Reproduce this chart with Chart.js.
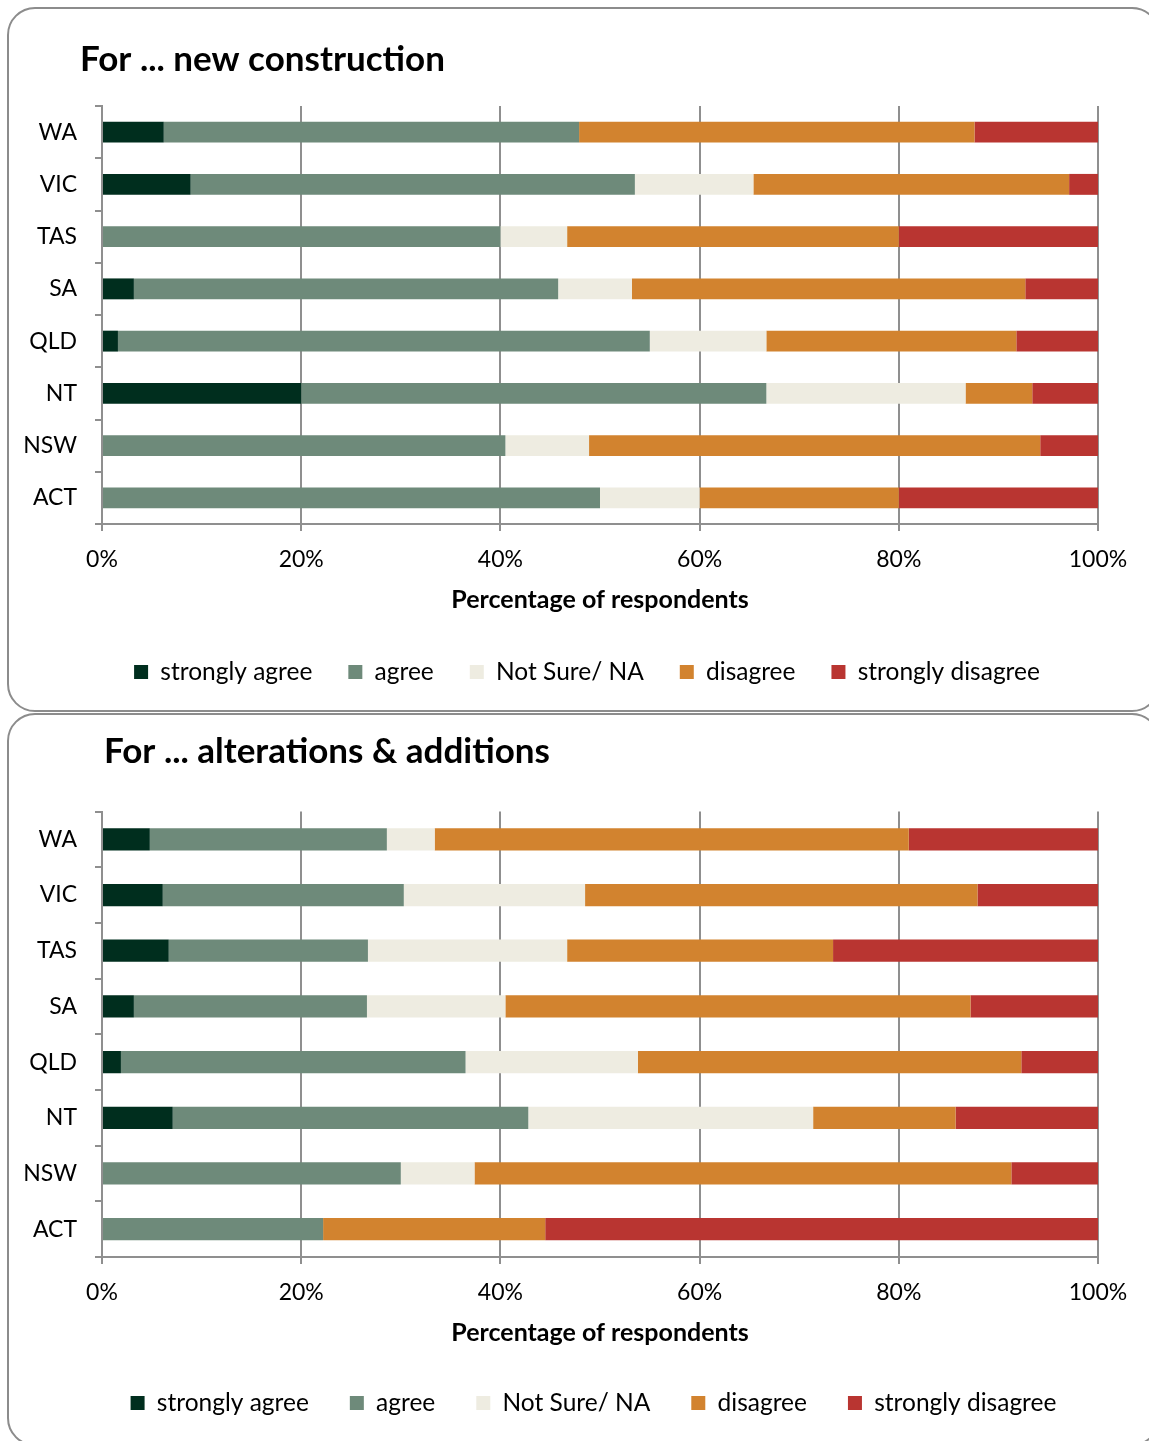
<!DOCTYPE html>
<html><head><meta charset="utf-8">
<script src="https://cdn.jsdelivr.net/npm/chart.js@4"></script>
<style>
html,body{margin:0;padding:0;background:#fff;overflow:hidden;width:1149px;height:1441px;position:relative}
.panel{position:absolute;border:2px solid #8c8c8c;border-radius:28px;box-sizing:border-box}
.wrap{position:absolute;left:0;width:1149px}
</style></head><body>
<div class="panel" style="left:7px;top:7px;width:1153px;height:705px"></div>
<div class="panel" style="left:7px;top:713px;width:1153px;height:733px"></div>
<div class="wrap" style="top:0;height:712px"><canvas id="c1"></canvas></div>
<div class="wrap" style="top:712px;height:729px"><canvas id="c2"></canvas></div>
<script>
const categories = ['WA','VIC','TAS','SA','QLD','NT','NSW','ACT'];
const seriesNames = ['strongly agree','agree','Not Sure/ NA','disagree','strongly disagree'];
const seriesColors = ['#002e1e','#6e8a7a','#eeece1','#d2832f','#b93531'];
const xTicks = [0,20,40,60,80,100];

// For ... new construction
const newStronglyAgree    = [6.2, 8.9, 0,    3.2, 1.6, 20.0, 0,    0];
const newAgree            = [41.7,44.6,40.0, 42.6,53.4,46.7, 40.5, 50.0];
const newNotSure          = [0,   11.9,6.7,  7.4, 11.7,20.0, 8.4,  10.0];
const newDisagree         = [39.7,31.7,33.3, 39.5,25.1,6.7,  45.3, 20.0];
const newStronglyDisagree = [12.4,2.9, 20.0, 7.3, 8.2, 6.6,  5.8,  20.0];

// For ... alterations & additions
const altStronglyAgree    = [4.8, 6.1, 6.7,  3.2, 1.9, 7.1,  0,    0];
const altAgree            = [23.8,24.2,20.0, 23.4,34.6,35.7, 30.0, 22.2];
const altNotSure          = [4.8, 18.2,20.0, 13.9,17.3,28.6, 7.4,  0];
const altDisagree         = [47.6,39.4,26.7, 46.7,38.5,14.3, 53.9, 22.3];
const altStronglyDisagree = [19.0,12.1,26.6, 12.8,7.7, 14.3, 8.7,  55.5];

Chart.defaults.font.family = 'Lato, "Open Sans", sans-serif';
Chart.defaults.color = '#000';

function makeChart(id, title, series, L) {
  const gridColor = '#8f8f8f';
  const placer = {
    id: 'placer',
    afterLayout(chart) {
      if (chart.titleBlock) chart.titleBlock.left = L.titleX;
      const lg = chart.legend;
      if (lg) {
        const d = L.legendCenter - (lg.left + lg.right) / 2;
        lg.left += d; lg.right += d;
      }
    }
  };
  return new Chart(document.getElementById(id), {
    type: 'bar',
    plugins: [placer],
    data: {
      labels: categories,
      datasets: series.map((d, i) => ({
        label: seriesNames[i], data: d, backgroundColor: seriesColors[i],
        borderWidth: 0, categoryPercentage: 1, barPercentage: 0.4
      }))
    },
    options: {
      indexAxis: 'y', responsive: true, maintainAspectRatio: false, animation: false,
      layout: { padding: { left: 0, right: 51, top: 0, bottom: L.padBottom } },
      plugins: {
        tooltip: { enabled: false },
        title: {
          display: true, text: title, align: 'start', fullSize: true,
          color: '#000', font: { size: 35, weight: 'bold' },
          padding: { top: L.titleTop, bottom: L.titleBottom }
        },
        legend: {
          position: 'bottom', fullSize: true,
          labels: { boxWidth: 14, boxHeight: 14, padding: L.legendPad, color: '#000', font: { size: 24.5 } }
        }
      },
      scales: {
        x: {
          stacked: true, min: 0, max: 100,
          afterBuildTicks: (s) => { s.ticks = xTicks.map(v => ({ value: v })); },
          afterFit: (s) => { s.height = L.xHeight; },
          ticks: { callback: (v) => v + '%', padding: 15, font: { size: 23 }, color: '#000', maxRotation: 0 },
          grid: { color: gridColor, lineWidth: 2, tickLength: 7, drawTicks: true },
          border: { display: true, color: gridColor, width: 2 },
          title: { display: true, text: 'Percentage of respondents', color: '#000',
                   font: { size: 25, weight: 'bold' }, padding: { top: 0, bottom: L.xTitlePad } }
        },
        y: {
          stacked: true,
          afterFit: (s) => { s.width = 102; },
          ticks: { padding: 18, font: { size: 23 }, color: '#000' },
          grid: { offset: true, drawOnChartArea: false, drawTicks: true, tickLength: 7, color: gridColor, lineWidth: 2 },
          border: { display: true, color: gridColor, width: 2 }
        }
      }
    }
  });
}

makeChart('c1', 'For ... new construction',
  [newStronglyAgree, newAgree, newNotSure, newDisagree, newStronglyDisagree],
  { padBottom: 17.75, titleX: 80, titleTop: 39, titleBottom: 25, legendPad: 36, legendCenter: 587, xHeight: 99.75, xTitlePad: 8.75 });

makeChart('c2', 'For ... alterations & additions',
  [altStronglyAgree, altAgree, altNotSure, altDisagree, altStronglyDisagree],
  { padBottom: 15.75, titleX: 104, titleTop: 19, titleBottom: 38.5, legendPad: 41, legendCenter: 593.5, xHeight: 92.75, xTitlePad: 1.75 });
</script>
</body></html>
